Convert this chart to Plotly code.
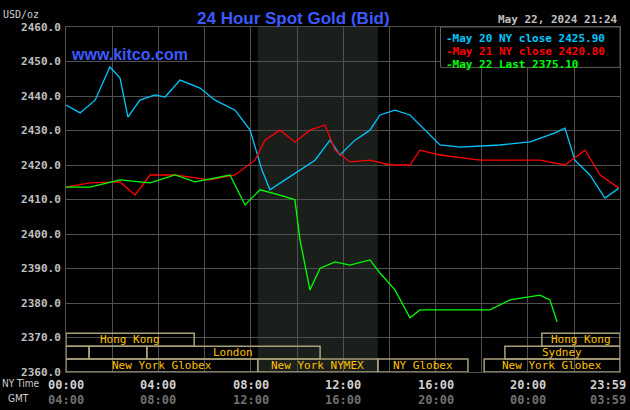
import plotly.graph_objects as go

def h(px): return (px-66)/23.1
def v(py): return 2460-(py-27)/3.45

blue_px=[66,80,95,110,120,128,140,155,165,180,200,215,235,250,262,270,285,300,315,330,340,355,370,380,395,410,425,440,460,500,530,555,565,575,590,605,619]
blue_py=[105,113,100,67,78,117,100,95,97,80,88,100,110,130,170,190,180,170,160,140,155,140,130,115,110,115,130,145,147,145,142,133,128,160,175,198,188]
red_px=[66,90,120,135,150,175,210,235,255,265,280,295,310,325,335,350,370,390,410,420,440,480,540,565,585,600,619]
red_py=[187,183,182,195,175,175,180,175,160,140,130,142,130,125,150,162,160,165,165,150,155,160,160,165,150,175,188]
green_px=[66,90,120,150,175,195,230,245,260,280,295,300,310,320,335,350,370,380,395,410,420,450,490,510,540,550,557]
green_py=[187,187,180,183,175,182,175,205,190,195,200,240,290,268,262,265,260,273,290,318,310,310,310,300,295,300,322]

blue_x=[round(h(p),2) for p in blue_px]; blue_y=[round(v(p),1) for p in blue_py]
red_x=[round(h(p),2) for p in red_px]; red_y=[round(v(p),1) for p in red_py]
green_x=[round(h(p),2) for p in green_px]; green_y=[round(v(p),1) for p in green_py]

legend_labels=["May 20 NY close 2425.90","May 21 NY close 2420.80","May 22 Last 2375.10"]
colors=["#00c8ff","#ff0000","#00ff00"]
ny_ticks=["00:00","04:00","08:00","12:00","16:00","20:00","23:59"]
gmt_ticks=["04:00","08:00","12:00","16:00","20:00","00:00","03:59"]
tick_pos=[0,4,8,12,16,20,23.983]
y_ticks=[2360+10*i for i in range(11)]

sessions=[(2,0,5.55,"Hong Kong"),(2,20.6,24,"Hong Kong"),
          (1,0,1,""),(1,1,3.5,""),(1,3.5,11,"London"),(1,19,24,"Sydney"),
          (0,0,8.3,"New York Globex"),(0,8.3,13.5,"New York NYMEX"),(0,13.5,17.4,"NY Globex"),(0,18.1,24,"New York Globex")]
row_h=3.75
MONO="DejaVu Sans Mono"

fig=go.Figure()
for x,y,c in [(blue_x,blue_y,colors[0]),(red_x,red_y,colors[1]),(green_x,green_y,colors[2])]:
    fig.add_trace(go.Scatter(x=x,y=y,mode="lines",line=dict(color=c,width=1.3),showlegend=False,hoverinfo="skip"))

shapes=[dict(type="rect",x0=8.3,x1=13.5,y0=2360,y1=2460,fillcolor="#1b1f1b",line_width=0,layer="below")]
ann=[]
for r,s,e,l in sessions:
    y0=2360+r*row_h
    shapes.append(dict(type="rect",x0=s,x1=min(e,23.983),y0=y0,y1=y0+row_h,line=dict(color="#a8a078",width=1.5)))
    if l:
        ann.append(dict(x=(s+min(e,23.983))/2,y=y0+row_h/2,text=l,showarrow=False,font=dict(color="#ffc000",size=11,family=MONO)))
shapes.append(dict(type="rect",xref="paper",yref="paper",x0=0.676,x1=1,y0=0.883,y1=1,line=dict(color="#606060",width=1),fillcolor="black"))
for i,(t,c) in enumerate(zip(legend_labels,colors)):
    ann.append(dict(xref="paper",yref="paper",x=0.683,y=0.99-i*0.037,xanchor="left",yanchor="top",text="<b>-"+t+"</b>",showarrow=False,font=dict(color=c,size=11,family=MONO)))
for p,a,b in zip(tick_pos,ny_ticks,gmt_ticks):
    xa="right" if p>23 else "center"
    xs=8 if p>23 else 0
    ann.append(dict(x=p,y=0,yref="paper",yshift=-4,yanchor="top",xanchor=xa,xshift=xs,text="<b>"+a+"</b>",showarrow=False,font=dict(color="#d0d0d0",size=12,family=MONO)))
    ann.append(dict(x=p,y=0,yref="paper",yshift=-19,yanchor="top",xanchor=xa,xshift=xs,text="<b>"+b+"</b>",showarrow=False,font=dict(color="#707070",size=12,family=MONO)))
ann+=[dict(xref="paper",yref="paper",x=0,xshift=-66,y=0,yshift=-4,yanchor="top",xanchor="left",text="NY Time",showarrow=False,font=dict(color="#d0d0d0",size=10,family="DejaVu Sans Condensed")),
      dict(xref="paper",yref="paper",x=0,xshift=-60,y=0,yshift=-19,yanchor="top",xanchor="left",text="GMT",showarrow=False,font=dict(color="#d0d0d0",size=10,family="DejaVu Sans Condensed")),
      dict(xref="paper",yref="paper",x=0,xshift=-65,y=1,yshift=20,xanchor="left",text="USD/oz",showarrow=False,font=dict(color="#d0d0d0",size=10,family=MONO)),
      dict(xref="paper",yref="paper",x=0.41,y=1,yshift=20,text="<b>24 Hour Spot Gold (Bid)</b>",showarrow=False,font=dict(color="#3c5aff",size=17,family="Liberation Sans")),
      dict(xref="paper",yref="paper",x=1,y=1,yshift=16,xanchor="right",text="<b>May 22, 2024 21:24</b>",showarrow=False,font=dict(color="#c0c0c0",size=11,family=MONO)),
      dict(xref="paper",yref="paper",x=0.005,y=0.95,xanchor="left",text="<b>www.kitco.com</b>",showarrow=False,font=dict(color="#3c5aff",size=16,family="Liberation Sans"))]

fig.update_layout(width=630,height=410,margin=dict(l=66,r=10,t=27,b=38),paper_bgcolor="black",plot_bgcolor="black",
    shapes=shapes,annotations=ann,
    xaxis=dict(range=[0,23.983],tick0=0,dtick=2,showticklabels=False,gridcolor="#505050",gridwidth=1,zeroline=False,showline=True,linecolor="#505050",mirror=True),
    yaxis=dict(range=[2360,2460],tickvals=y_ticks,ticktext=["<b>%.1f</b>"%t for t in y_ticks],gridcolor="#505050",zeroline=False,showline=True,linecolor="#505050",mirror=True,
               tickfont=dict(color="#c0c0c0",size=11,family=MONO),ticks="",ticklabelstandoff=2))
fig.write_html("out.html",config={"displayModeBar":False},post_script="document.body.style.margin='0';document.body.style.background='black';")
